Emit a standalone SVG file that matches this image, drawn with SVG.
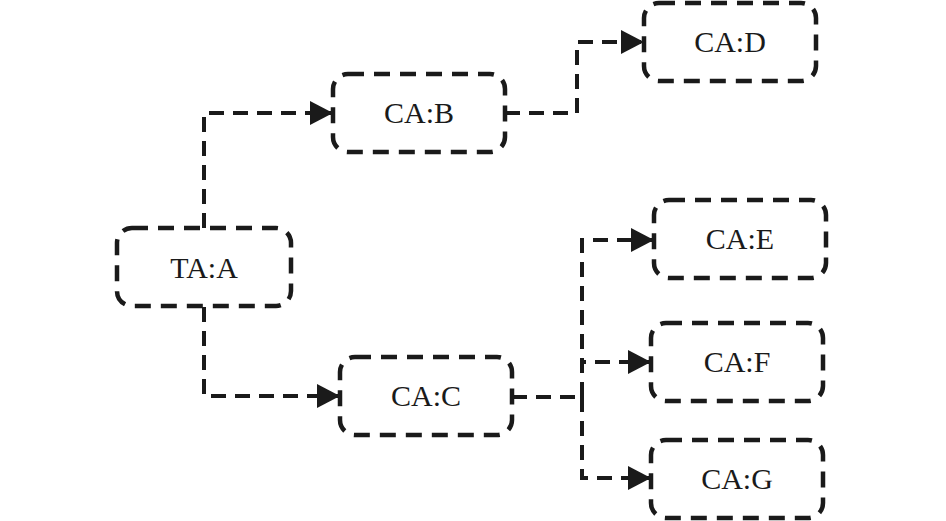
<svg xmlns="http://www.w3.org/2000/svg" width="946" height="521" viewBox="0 0 946 521">
<style>
.box{fill:none;stroke:#1a1a1a;stroke-width:4.5;stroke-dasharray:16 10}
.lbl{font-family:"Liberation Serif","Times New Roman",serif;font-size:30px;fill:#1a1a1a;text-anchor:middle}
.c{fill:none;stroke:#1a1a1a;stroke-width:4;stroke-dasharray:15 9}
</style>
<defs>
<marker id="ah" markerUnits="userSpaceOnUse" markerWidth="26" markerHeight="26" refX="23" refY="12" orient="auto">
<path d="M0,0 L23,12 L0,24 Z" fill="#1a1a1a"/>
</marker>
</defs>
<rect width="946" height="521" fill="#fff"/>
<g id="connectors">
<path class="c" d="M204,228 V113 H333" marker-end="url(#ah)"/>
<path class="c" d="M204,307 V396 H340" marker-end="url(#ah)"/>
<path class="c" d="M505,113 H577 V42 H644" marker-end="url(#ah)"/>
<path class="c" d="M512,397 H582"/>
<path class="c" d="M582,397 V240 H654" marker-end="url(#ah)"/>
<path class="c" d="M582,397 V362 H651" marker-end="url(#ah)"/>
<path class="c" d="M582,397 V478 H651" marker-end="url(#ah)"/>
</g>
<g id="A"><rect class="box" x="117" y="228" width="174" height="78" rx="15"/><text class="lbl" x="204" y="278">TA:A</text></g>
<g id="B"><rect class="box" x="333" y="74" width="172" height="78" rx="15"/><text class="lbl" x="419" y="123">CA:B</text></g>
<g id="C"><rect class="box" x="340" y="357" width="172" height="78" rx="15"/><text class="lbl" x="426" y="406">CA:C</text></g>
<g id="D"><rect class="box" x="644" y="3" width="172" height="78" rx="15"/><text class="lbl" x="730" y="52">CA:D</text></g>
<g id="E"><rect class="box" x="654" y="200" width="172" height="78" rx="15"/><text class="lbl" x="740" y="249">CA:E</text></g>
<g id="F"><rect class="box" x="651" y="323" width="172" height="78" rx="15"/><text class="lbl" x="737" y="372">CA:F</text></g>
<g id="G"><rect class="box" x="651" y="440" width="172" height="78" rx="15"/><text class="lbl" x="737" y="489">CA:G</text></g>
</svg>
